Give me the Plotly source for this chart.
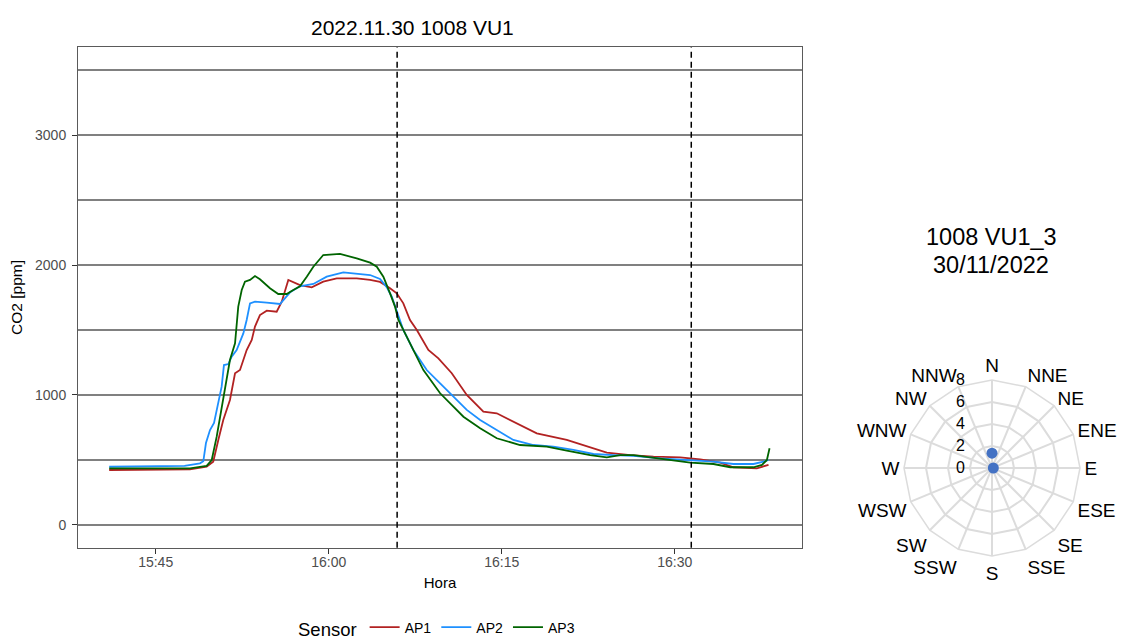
import pandas as pd
import plotly.graph_objects as go

W, H = 1122, 639
DAY = "2022-11-30"

# ---- CO2 series: minutes after 15:00 and ppm ----
ap1_min = [40.97, 47.97, 49.42, 49.99, 50.43, 50.86, 51.44, 51.88, 52.31, 52.89, 53.33, 53.61,
           54.04, 54.63, 55.49, 55.93, 56.50, 57.23, 57.51, 58.53, 59.53, 60.70, 62.43, 63.59,
           64.45, 65.32, 65.90, 66.47, 67.05, 67.64, 68.64, 69.51, 70.67, 71.97, 73.41, 74.57,
           76.01, 78.04, 80.64, 82.38, 84.11, 86.14, 88.16, 90.47, 92.21, 93.94, 95.09, 97.12, 98.13]
ap1_ppm = [423, 428, 449, 487, 654, 808, 962, 1167, 1192, 1346, 1423, 1526,
           1615, 1649, 1641, 1718, 1885, 1859, 1846, 1828, 1872, 1897, 1897, 1885,
           1870, 1821, 1782, 1705, 1577, 1500, 1346, 1282, 1167, 1000, 872, 859,
           795, 705, 654, 602, 556, 538, 526, 520, 505, 479, 444, 436, 462]

ap2_min = [40.97, 47.50, 48.84, 49.13, 49.36, 49.71, 50.06, 50.29, 50.72, 50.92, 51.30, 51.59,
           52.02, 52.60, 52.89, 53.18, 53.61, 54.63, 55.78, 56.65, 57.51, 58.67, 59.83, 61.27,
           62.43, 63.59, 64.45, 65.03, 65.47, 65.90, 66.47, 67.34, 68.50, 69.66, 70.81, 71.97,
           73.13, 74.57, 76.01, 77.75, 79.48, 81.22, 82.95, 84.69, 86.42, 88.74, 91.34, 93.36,
           95.09, 96.83, 97.70, 98.13]
ap2_ppm = [448, 455, 474, 490, 630, 730, 785, 885, 1064, 1230, 1238, 1295,
           1346, 1474, 1577, 1705, 1718, 1710, 1700, 1790, 1836, 1854, 1910, 1944,
           1936, 1923, 1892, 1830, 1756, 1640, 1500, 1346, 1192, 1090, 987, 885,
           808, 731, 654, 615, 602, 577, 546, 538, 531, 513, 500, 487,
           469, 469, 487, 500]

ap3_min = [40.97, 47.97, 49.42, 49.86, 50.29, 50.86, 51.44, 51.88, 52.16, 52.46, 52.74, 53.18,
           53.61, 54.04, 54.91, 55.63, 56.36, 56.93, 57.51, 58.10, 58.67, 59.53, 60.98, 62.43,
           63.59, 64.17, 64.74, 65.32, 65.75, 66.04, 66.47, 67.05, 68.21, 69.66, 71.68, 73.13,
           74.57, 76.59, 78.91, 80.64, 82.67, 84.11, 85.27, 86.42, 88.45, 91.34, 93.36, 94.81,
           96.83, 97.56, 97.99, 98.22]
ap3_ppm = [436, 436, 454, 500, 679, 962, 1269, 1397, 1680, 1808, 1872, 1885,
           1915, 1890, 1821, 1777, 1777, 1808, 1836, 1910, 1987, 2077, 2085, 2051,
           2018, 1987, 1910, 1782, 1680, 1577, 1500, 1397, 1192, 1013, 833, 744,
           667, 615, 602, 572, 538, 520, 538, 538, 513, 479, 469, 444,
           444, 462, 500, 590]

sensors = ["AP1", "AP2", "AP3"]
sensor_colors = ["#B22222", "#1E90FF", "#006400"]

marker_times = ["16:05:56", "16:31:26"]          # dashed vertical lines
x_limits = ["15:38:16", "16:41:02"]
x_ticks = ["15:45", "16:00", "16:15", "16:30"]
y_limits = [-175, 3675]
y_ticks = [0, 1000, 2000, 3000]

# ---- wind rose ----
compass = ["N", "NNE", "NE", "ENE", "E", "ESE", "SE", "SSE",
           "S", "SSW", "SW", "WSW", "W", "WNW", "NW", "NNW"]
wind_dir = ["N", "E"]
wind_speed = [1.35, 0.12]


def ts(hms):
    return pd.Timestamp(f"{DAY} {hms}")


def from_minutes(mins):
    return pd.Timestamp(f"{DAY} 15:00") + pd.to_timedelta(mins, unit="m")


def px_x(p):
    return p / W


def px_y(p):
    return 1 - p / H


FONT = "Arial, Liberation Sans, sans-serif"

fig = go.Figure()
for name, mins, vals, col in zip(sensors, [ap1_min, ap2_min, ap3_min],
                                 [ap1_ppm, ap2_ppm, ap3_ppm], sensor_colors):
    fig.add_trace(go.Scatter(x=from_minutes(mins), y=vals, mode="lines", name=name,
                             line=dict(color=col, width=1.8), xaxis="x", yaxis="y"))

# wind rose scaffold (all categories) + points
fig.add_trace(go.Scatterpolar(r=[0] * len(compass), theta=compass, mode="markers",
                              marker=dict(opacity=0), showlegend=False, hoverinfo="skip",
                              subplot="polar"))
fig.add_trace(go.Scatterpolar(r=wind_speed, theta=wind_dir, mode="markers",
                              marker=dict(color="#4472C4", size=11), showlegend=False,
                              subplot="polar"))

for t in marker_times:
    fig.add_shape(type="line", xref="x", yref="paper", x0=ts(t), x1=ts(t),
                  y0=px_y(547.7), y1=px_y(47.3),
                  line=dict(color="black", width=1.5, dash="6px,4px"))

axis_common = dict(showline=True, mirror=True, linecolor="#5a5a5a", linewidth=1,
                   ticks="outside", ticklen=5, tickcolor="#333333",
                   tickfont=dict(family=FONT, size=14, color="#4d4d4d"), zeroline=False)

fig.update_layout(
    width=W, height=H,
    margin=dict(l=0, r=0, t=0, b=0, autoexpand=False),
    paper_bgcolor="white", plot_bgcolor="white",
    font=dict(family=FONT, color="black"),
    xaxis=dict(domain=[px_x(78), px_x(802)], type="date",
               range=[ts(x_limits[0]), ts(x_limits[1])],
               tickvals=[ts(t) for t in x_ticks], tickformat="%H:%M",
               showgrid=False, ticklabelstandoff=-4,
               title=dict(text="Hora", font=dict(family=FONT, size=15), standoff=8),
               **axis_common),
    yaxis=dict(domain=[px_y(547.7), px_y(47.3)], range=y_limits, tickvals=y_ticks,
               showgrid=True, gridcolor="#808080", gridwidth=1.5, ticklabelstandoff=3,
               minor=dict(dtick=500, tick0=0, showgrid=True, gridcolor="#808080",
                          gridwidth=1.5, ticks=""),
               title=dict(text="CO2 [ppm]", font=dict(family=FONT, size=15.5), standoff=8),
               **axis_common),
    polar=dict(
        domain=dict(x=[px_x(904), px_x(1080)], y=[px_y(556), px_y(380)]),
        bgcolor="white", gridshape="linear",
        angularaxis=dict(type="category", categoryorder="array", categoryarray=compass,
                         direction="clockwise", rotation=90, showline=True,
                         linecolor="#dcdcdc", linewidth=1.5, gridcolor="#dcdcdc", gridwidth=1.5,
                         ticks="", tickfont=dict(family=FONT, size=19, color="black")),
        radialaxis=dict(range=[0, 8], dtick=2, angle=90, side="counterclockwise",
                        tickangle=90, showline=False, ticks="outside", ticklen=21,
                        tickcolor="rgba(0,0,0,0)", gridcolor="#dcdcdc",
                        gridwidth=1.5, tickfont=dict(family=FONT, size=16, color="black")),
    ),
    legend=dict(orientation="h", x=px_x(296), xanchor="left", y=px_y(629), yanchor="middle",
                title=dict(text="Sensor", font=dict(family=FONT, size=18.5), side="left"),
                font=dict(family=FONT, size=14), bgcolor="rgba(0,0,0,0)"),
    showlegend=True,
)

fig.add_annotation(text="2022.11.30 1008 VU1", xref="paper", yref="paper",
                   x=px_x(412), y=px_y(28), xanchor="center", yanchor="middle",
                   showarrow=False, font=dict(family=FONT, size=21, color="black"))
fig.add_annotation(text="1008 VU1_3", xref="paper", yref="paper",
                   x=px_x(991), y=px_y(237), xanchor="center", yanchor="middle",
                   showarrow=False, font=dict(family=FONT, size=23.5, color="black"))
fig.add_annotation(text="30/11/2022", xref="paper", yref="paper",
                   x=px_x(991), y=px_y(265), xanchor="center", yanchor="middle",
                   showarrow=False, font=dict(family=FONT, size=23.5, color="black"))

fig.write_html("out.html", config={"displayModeBar": False},
               post_script="document.body.style.margin='0';")
